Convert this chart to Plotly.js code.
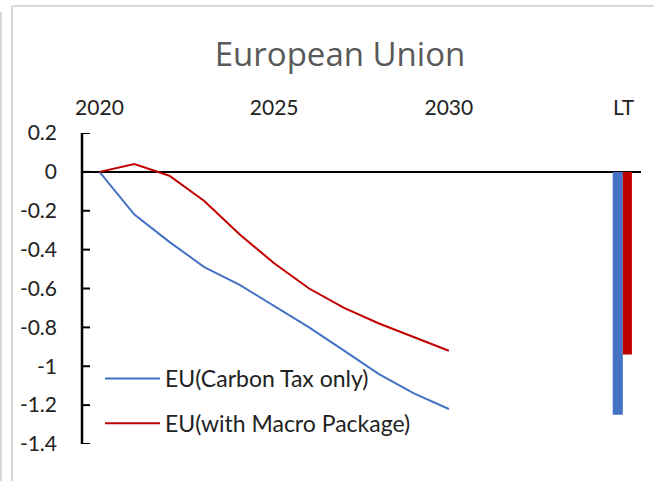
<!DOCTYPE html>
<html>
<head>
<meta charset="utf-8">
<script src="https://cdn.plot.ly/plotly-3.0.1.min.js"></script>
<style>
  html, body { margin: 0; padding: 0; background: #ffffff; }
  #chart { width: 654px; height: 481px; }
</style>
</head>
<body>
<div id="chart"></div>
<script>
// ---- data ----
const years = [2020, 2021, 2022, 2023, 2024, 2025, 2026, 2027, 2028, 2029, 2030];
const carbonTaxOnly = [0, -0.22, -0.36, -0.49, -0.58, -0.69, -0.80, -0.92, -1.04, -1.14, -1.22];
const withMacroPackage = [0, 0.04, -0.02, -0.15, -0.32, -0.47, -0.60, -0.70, -0.78, -0.85, -0.92];
const ltPosition = [2035];
const ltCarbonTaxOnly = [-1.25];
const ltWithMacroPackage = [-0.94];
const seriesNames = ['EU(Carbon Tax only)', 'EU(with Macro Package)'];
const xTickVals = [2020, 2025, 2030, 2035];
const xTickText = ['2020', '2025', '2030', 'LT'];
const yTickVals = [0.2, 0, -0.2, -0.4, -0.6, -0.8, -1, -1.2, -1.4];
const yTickText = ['0.2', '0', '-0.2', '-0.4', '-0.6', '-0.8', '-1', '-1.2', '-1.4'];
const yRange = [-1.4, 0.2];
const chartTitle = 'European Union';

const BLUE = '#4472C4';
const RED = '#C00000';
const tickFont = { family: 'Lato, sans-serif', size: 21, color: '#222222' };

const traces = [
  { type: 'scatter', mode: 'lines', x: years, y: carbonTaxOnly, name: seriesNames[0],
    line: { color: BLUE, width: 2 }, legendgroup: 'a' },
  { type: 'scatter', mode: 'lines', x: years, y: withMacroPackage, name: seriesNames[1],
    line: { color: RED, width: 2 }, legendgroup: 'b' },
  { type: 'bar', x: ltPosition, y: ltCarbonTaxOnly, name: seriesNames[0], showlegend: false,
    marker: { color: BLUE }, width: 0.29, offset: -0.31 },
  { type: 'bar', x: ltPosition, y: ltWithMacroPackage, name: seriesNames[1], showlegend: false,
    marker: { color: RED }, width: 0.26, offset: -0.02 }
];

const px2x = p => (p - 82) / 559;
const px2y = p => (444 - p) / 311;

// value-axis line and inside tick marks, placed on the y scale
const axisShapes = [
  { type: 'line', xref: 'paper', yref: 'y', x0: 0, x1: 0, y0: yRange[0], y1: yRange[1],
    line: { color: '#000000', width: 2.5 } }
].concat(yTickVals.map(v => ({
  type: 'line', xref: 'paper', yref: 'y', x0: 0, x1: px2x(90), y0: v, y1: v,
  line: { color: '#000000', width: 2 }
})));

const borderShapes = [
  { type: 'line', xref: 'paper', yref: 'paper', x0: px2x(12), x1: px2x(700), y0: px2y(6), y1: px2y(6),
    line: { color: '#d9d9d9', width: 2 } },
  { type: 'line', xref: 'paper', yref: 'paper', x0: px2x(12), x1: px2x(12), y0: px2y(6), y1: px2y(520),
    line: { color: '#d9d9d9', width: 2 } },
  { type: 'line', xref: 'paper', yref: 'paper', x0: px2x(0.8), x1: px2x(0.8), y0: px2y(12), y1: px2y(520),
    line: { color: '#d4d4d4', width: 2 } }
];

const layout = {
  width: 654, height: 481,
  margin: { l: 82, r: 13, t: 133, b: 37 },
  paper_bgcolor: '#ffffff', plot_bgcolor: '#ffffff',
  title: { text: chartTitle, xref: 'container', yref: 'container', x: 340 / 654, y: 1 - 54 / 481,
    xanchor: 'center', yanchor: 'middle',
    font: { family: '"Open Sans", sans-serif', size: 33, color: '#595959' } },
  showlegend: true,
  legend: { x: px2x(100), y: px2y(357), xanchor: 'left', yanchor: 'top',
    bgcolor: 'rgba(0,0,0,0)', traceorder: 'grouped', tracegroupgap: 12, itemwidth: 55,
    font: { family: 'Lato, sans-serif', size: 23, color: '#222222' } },
  xaxis: { type: 'linear', range: [2019.5, 2035.5], side: 'top', showgrid: false, zeroline: false,
    showline: false, ticks: '', tickmode: 'array', tickvals: xTickVals, ticktext: xTickText,
    tickfont: tickFont, ticklabelstandoff: 13 },
  yaxis: { range: yRange, showgrid: false, zeroline: true, zerolinecolor: '#000000', zerolinewidth: 2,
    showline: false, ticks: '', tickmode: 'array', tickvals: yTickVals, ticktext: yTickText,
    tickfont: tickFont, ticklabelstandoff: 24, automargin: false },
  shapes: axisShapes.concat(borderShapes)
};

Plotly.newPlot('chart', traces, layout, { displayModeBar: false, staticPlot: true });
</script>
</body>
</html>
